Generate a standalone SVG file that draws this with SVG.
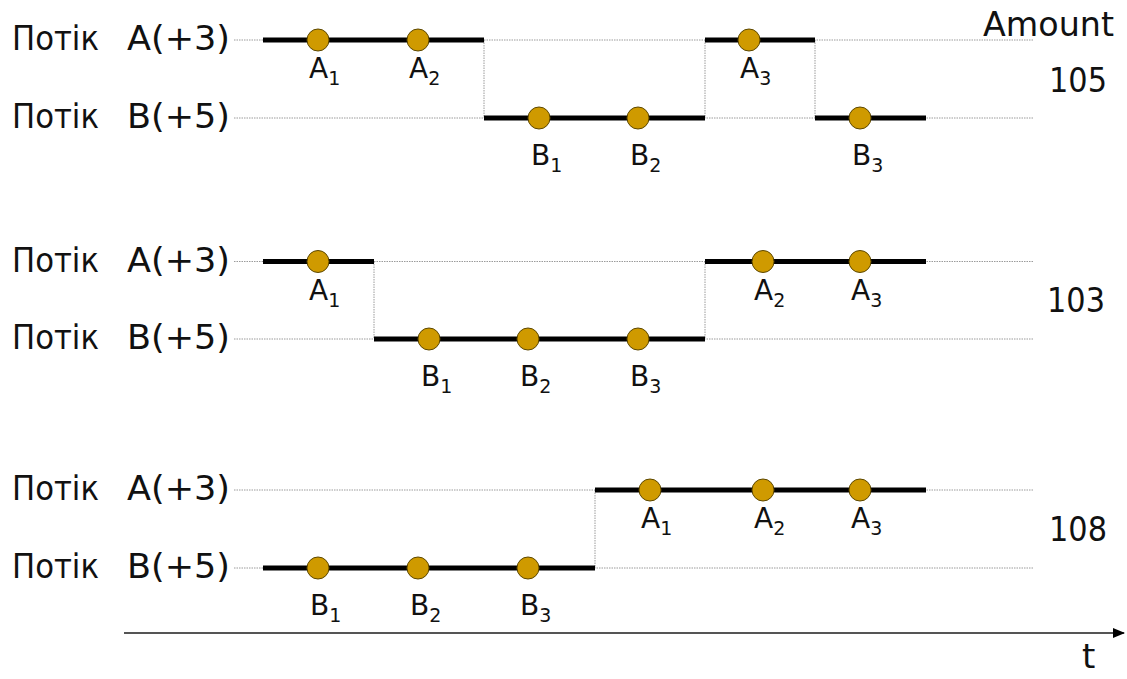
<svg xmlns="http://www.w3.org/2000/svg" width="1127" height="679" viewBox="0 0 1127 679">
  <style>
    text { font-family: "DejaVu Sans", Verdana, sans-serif; fill: #111; }
    .big { font-size: 34px; }
    .lbl { font-size: 28px; }
    .sub { font-size: 19px; }
    .guide { stroke: #9a9a9a; stroke-width: 1; stroke-dasharray: 1.5 1; fill: none; }
    .run { stroke: #000; stroke-width: 5; fill: none; }
    .ev { fill: #CF9A00; stroke: #5c4700; stroke-width: 1; }
    .axis { stroke: #555; stroke-width: 2; }
  </style>
  <defs>
    <marker id="arrow" markerWidth="12" markerHeight="10" refX="11" refY="5" orient="auto" markerUnits="userSpaceOnUse">
      <path d="M0,0 L12,5 L0,10 Z" fill="#000"/>
    </marker>
  </defs>

  <rect width="1127" height="679" fill="#fff"/>

  <!-- row labels -->
  <g id="rows1">
    <text class="big" x="12" y="50" textLength="87" lengthAdjust="spacingAndGlyphs">Потік</text><text class="big" x="127" y="50" textLength="103" lengthAdjust="spacingAndGlyphs">A(+3)</text>
    <text class="big" x="12" y="128" textLength="87" lengthAdjust="spacingAndGlyphs">Потік</text><text class="big" x="127" y="128" textLength="103" lengthAdjust="spacingAndGlyphs">B(+5)</text>
  </g>
  <g id="rows2">
    <text class="big" x="12" y="272" textLength="87" lengthAdjust="spacingAndGlyphs">Потік</text><text class="big" x="127" y="272" textLength="103" lengthAdjust="spacingAndGlyphs">A(+3)</text>
    <text class="big" x="12" y="349" textLength="87" lengthAdjust="spacingAndGlyphs">Потік</text><text class="big" x="127" y="349" textLength="103" lengthAdjust="spacingAndGlyphs">B(+5)</text>
  </g>
  <g id="rows3">
    <text class="big" x="12" y="500" textLength="87" lengthAdjust="spacingAndGlyphs">Потік</text><text class="big" x="127" y="500" textLength="103" lengthAdjust="spacingAndGlyphs">A(+3)</text>
    <text class="big" x="12" y="578" textLength="87" lengthAdjust="spacingAndGlyphs">Потік</text><text class="big" x="127" y="578" textLength="103" lengthAdjust="spacingAndGlyphs">B(+5)</text>
  </g>

  <g id="amounts">
    <text class="big" x="983" y="36" textLength="131" lengthAdjust="spacingAndGlyphs">Amount</text>
    <text class="big" x="1049" y="92" textLength="58" lengthAdjust="spacingAndGlyphs">105</text>
    <text class="big" x="1047" y="312" textLength="58" lengthAdjust="spacingAndGlyphs">103</text>
    <text class="big" x="1049" y="541" textLength="58" lengthAdjust="spacingAndGlyphs">108</text>
  </g>

  <!-- dotted guide lanes -->
  <g id="guides">
    <line class="guide" x1="234" y1="40" x2="1034" y2="40"/>
    <line class="guide" x1="234" y1="118" x2="1034" y2="118"/>
    <line class="guide" x1="234" y1="261.5" x2="1034" y2="261.5"/>
    <line class="guide" x1="234" y1="339" x2="1034" y2="339"/>
    <line class="guide" x1="234" y1="490" x2="1034" y2="490"/>
    <line class="guide" x1="234" y1="568" x2="1034" y2="568"/>
  </g>

  <!-- execution runs and switches -->
  <g id="connectors">
    <!-- schedule 1 -->
    <line class="guide" x1="484" y1="40" x2="484" y2="118"/>
    <line class="guide" x1="705" y1="40" x2="705" y2="118"/>
    <line class="guide" x1="815" y1="40" x2="815" y2="118"/>
    <line class="run" x1="263" y1="40" x2="484" y2="40"/>
    <line class="run" x1="484" y1="118" x2="705" y2="118"/>
    <line class="run" x1="705" y1="40" x2="815" y2="40"/>
    <line class="run" x1="815" y1="118" x2="926" y2="118"/>
    <!-- schedule 2 -->
    <line class="guide" x1="374" y1="261.5" x2="374" y2="339"/>
    <line class="guide" x1="705" y1="261.5" x2="705" y2="339"/>
    <line class="run" x1="263" y1="261.5" x2="374" y2="261.5"/>
    <line class="run" x1="374" y1="339" x2="594" y2="339"/>
    <line class="run" x1="594" y1="339" x2="705" y2="339"/>
    <line class="run" x1="705" y1="261.5" x2="926" y2="261.5"/>
    <!-- schedule 3 -->
    <line class="guide" x1="595" y1="490" x2="595" y2="568"/>
    <line class="run" x1="263" y1="568" x2="484" y2="568"/>
    <line class="run" x1="484" y1="568" x2="595" y2="568"/>
    <line class="run" x1="595" y1="490" x2="705" y2="490"/>
    <line class="run" x1="705" y1="490" x2="926" y2="490"/>
    <!-- time axis -->
    <line class="axis" x1="124" y1="633" x2="1124" y2="633" marker-end="url(#arrow)"/>
  </g>
  <text class="big" x="1082" y="668">t</text>

  <!-- schedule 1 events -->
  <g id="s1-a1"><circle class="ev" cx="318" cy="40" r="11"/><text class="lbl" x="309" y="78">A<tspan class="sub" dy="7">1</tspan></text></g>
  <g id="s1-a2"><circle class="ev" cx="418" cy="40" r="11"/><text class="lbl" x="409" y="78">A<tspan class="sub" dy="7">2</tspan></text></g>
  <g id="s1-b1"><circle class="ev" cx="539" cy="118" r="11"/><text class="lbl" x="531" y="165">B<tspan class="sub" dy="7">1</tspan></text></g>
  <g id="s1-b2"><circle class="ev" cx="638" cy="118" r="11"/><text class="lbl" x="630" y="165">B<tspan class="sub" dy="7">2</tspan></text></g>
  <g id="s1-a3"><circle class="ev" cx="749" cy="40" r="11"/><text class="lbl" x="740" y="78">A<tspan class="sub" dy="7">3</tspan></text></g>
  <g id="s1-b3"><circle class="ev" cx="860" cy="118" r="11"/><text class="lbl" x="852" y="165">B<tspan class="sub" dy="7">3</tspan></text></g>

  <!-- schedule 2 events -->
  <g id="s2-a1"><circle class="ev" cx="318" cy="261.5" r="11"/><text class="lbl" x="309" y="299.5">A<tspan class="sub" dy="7">1</tspan></text></g>
  <g id="s2-b1"><circle class="ev" cx="429" cy="339" r="11"/><text class="lbl" x="421" y="386">B<tspan class="sub" dy="7">1</tspan></text></g>
  <g id="s2-b2"><circle class="ev" cx="528" cy="339" r="11"/><text class="lbl" x="520" y="386">B<tspan class="sub" dy="7">2</tspan></text></g>
  <g id="s2-b3"><circle class="ev" cx="638" cy="339" r="11"/><text class="lbl" x="630" y="386">B<tspan class="sub" dy="7">3</tspan></text></g>
  <g id="s2-a2"><circle class="ev" cx="763" cy="261.5" r="11"/><text class="lbl" x="754" y="299.5">A<tspan class="sub" dy="7">2</tspan></text></g>
  <g id="s2-a3"><circle class="ev" cx="860" cy="261.5" r="11"/><text class="lbl" x="851" y="299.5">A<tspan class="sub" dy="7">3</tspan></text></g>

  <!-- schedule 3 events -->
  <g id="s3-b1"><circle class="ev" cx="318" cy="568" r="11"/><text class="lbl" x="310" y="615">B<tspan class="sub" dy="7">1</tspan></text></g>
  <g id="s3-b2"><circle class="ev" cx="418" cy="568" r="11"/><text class="lbl" x="410" y="615">B<tspan class="sub" dy="7">2</tspan></text></g>
  <g id="s3-b3"><circle class="ev" cx="528" cy="568" r="11"/><text class="lbl" x="520" y="615">B<tspan class="sub" dy="7">3</tspan></text></g>
  <g id="s3-a1"><circle class="ev" cx="650" cy="490" r="11"/><text class="lbl" x="641" y="528">A<tspan class="sub" dy="7">1</tspan></text></g>
  <g id="s3-a2"><circle class="ev" cx="763" cy="490" r="11"/><text class="lbl" x="754" y="528">A<tspan class="sub" dy="7">2</tspan></text></g>
  <g id="s3-a3"><circle class="ev" cx="860" cy="490" r="11"/><text class="lbl" x="851" y="528">A<tspan class="sub" dy="7">3</tspan></text></g>
</svg>
